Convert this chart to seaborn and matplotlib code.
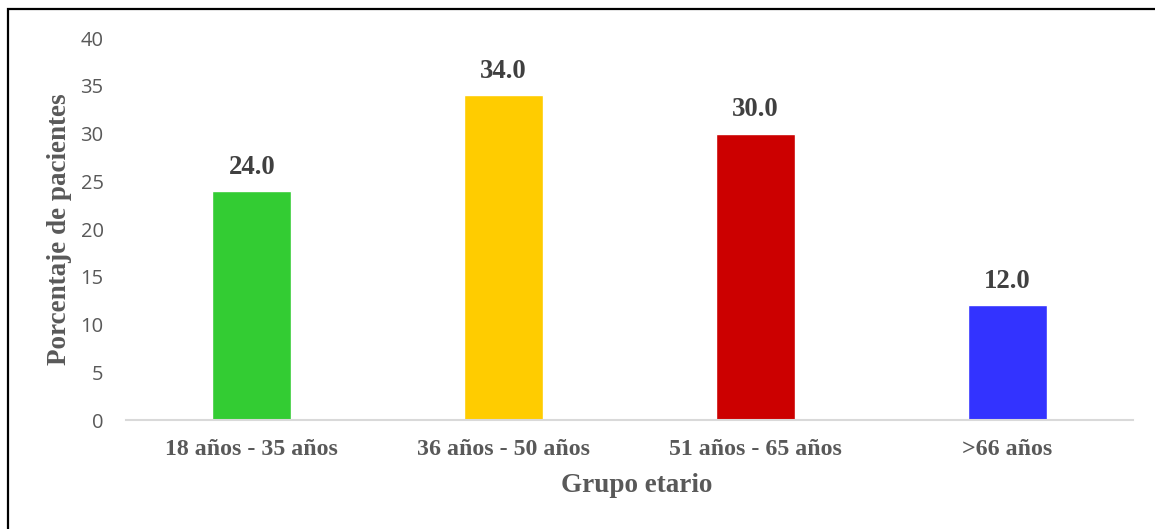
import matplotlib
matplotlib.use("Agg")
import matplotlib.pyplot as plt
import seaborn as sns
import pandas as pd
from matplotlib.patches import Rectangle

# Data
grupos = ["18 años - 35 años", "36 años - 50 años", "51 años - 65 años", ">66 años"]
porcentajes = [24.0, 34.0, 30.0, 12.0]
colores = ["#33cc33", "#ffcc00", "#cc0000", "#3333ff"]

df = pd.DataFrame({"grupo": grupos, "pct": porcentajes})

sns.set_style("white")

fig = plt.figure(figsize=(11.55, 5.29), dpi=100)
ax = fig.add_axes([0.109, 0.206, 0.872, 0.722])

sns.barplot(data=df, x="grupo", y="pct", hue="grupo", palette=colores,
            width=0.314, saturation=1, legend=False, ax=ax)

ax.set_ylim(0, 40)
ax.set_yticks(range(0, 41, 5))
ax.set_xlim(-0.5, 3.5)

# bar value labels
for cont in ax.containers:
    ax.bar_label(cont, fmt="%.1f", padding=8, fontsize=19.3, fontweight="bold",
                 family="Liberation Serif", color="#404040")

ax.set_xlabel("Grupo etario", fontsize=19.5, fontweight="bold",
              family="Liberation Serif", color="#595959", labelpad=10)
ax.set_ylabel("Porcentaje de pacientes", fontsize=19.5, fontweight="bold",
              family="Liberation Serif", color="#595959", labelpad=6)
ax.xaxis.set_label_coords(0.507, -0.14)

for lab in ax.get_xticklabels():
    lab.set_family("Liberation Serif")
    lab.set_fontweight("bold")
    lab.set_fontsize(17.2)
    lab.set_color("#595959")
for lab in ax.get_yticklabels():
    lab.set_family("Open Sans")
    lab.set_fontsize(14.5)
    lab.set_color("#595959")

ax.tick_params(axis="x", length=0, pad=14)
ax.tick_params(axis="y", length=0, pad=16)

for s in ["top", "right", "left"]:
    ax.spines[s].set_visible(False)
ax.spines["bottom"].set_color("#d9d9d9")
ax.spines["bottom"].set_linewidth(1.5)

# outer frame (only top and left edges fall inside the image)
fig.patches.append(Rectangle((8 / 1155, -0.1), 1.2, 1.1 - 9 / 529,
                             transform=fig.transFigure, fill=False,
                             edgecolor="black", linewidth=1.6))

fig.savefig("out.png", dpi=100)
